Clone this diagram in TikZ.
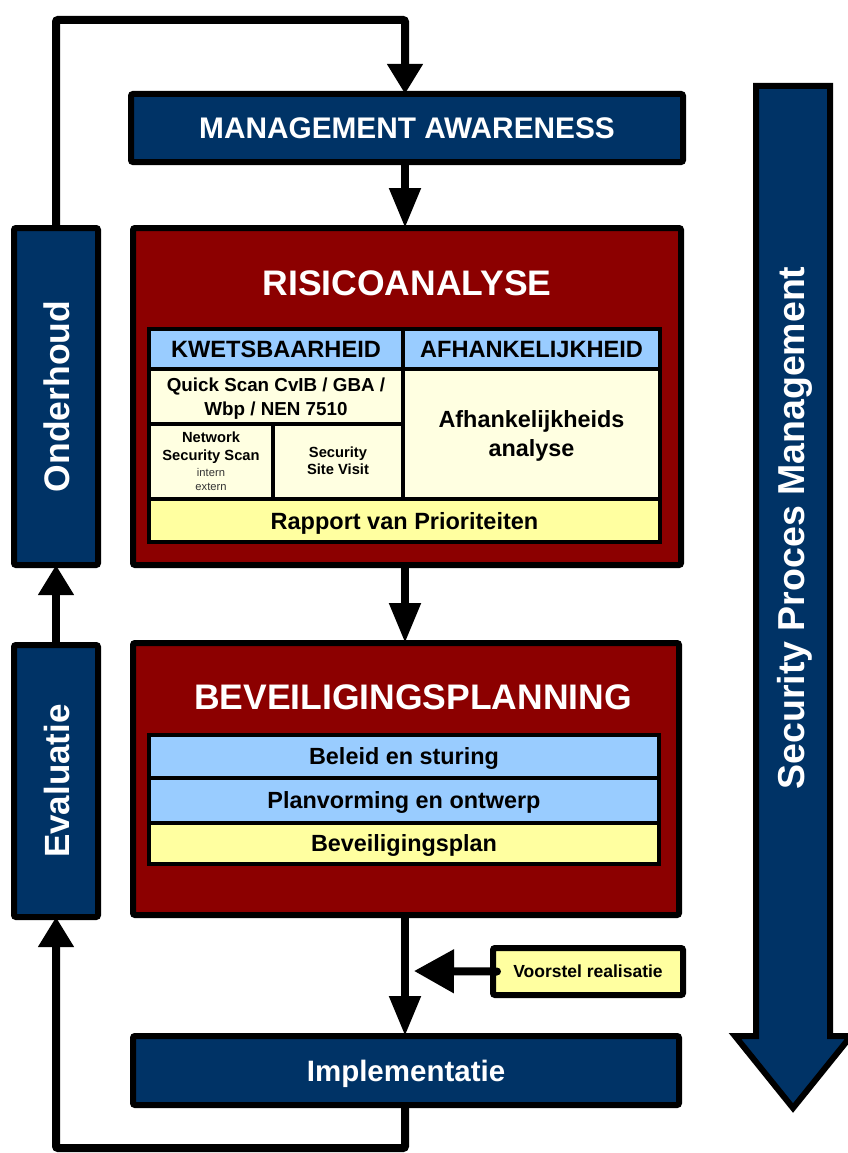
\documentclass[tikz,border=0pt]{standalone}
\usepackage{fontspec}
\setmainfont{Liberation Sans}
\usetikzlibrary{arrows.meta}
\definecolor{navy}{RGB}{0,51,102}
\definecolor{darkred}{RGB}{140,0,0}
\definecolor{lblue}{RGB}{153,204,255}
\definecolor{lyel}{RGB}{255,255,160}
\definecolor{cream}{RGB}{255,255,225}
\begin{document}
\begin{tikzpicture}[x=1pt,y=-1pt,
  box/.style={draw=black, line width=6pt, rounded corners=2pt, rectangle, inner sep=0pt, outer sep=0pt, font=\bfseries, text=white, align=center},
  navybox/.style={box, fill=navy},
  redbox/.style={box, fill=darkred},
  cell/.style={draw=black, line width=3.5pt, rectangle, inner sep=0pt, outer sep=0pt, font=\bfseries, align=center, text=black, text depth=0pt},
  lbl/.style={font=\bfseries, text=white, inner sep=0pt},
  small/.style={inner sep=0pt, anchor=base},
  conn/.style={line width=8pt, rounded corners=2pt},
]
\useasboundingbox (0,0) rectangle (847,1153);

% Big side arrow
\draw[line width=6pt, fill=navy, line join=miter]
  (756,86) -- (830,86) -- (830,1036) -- (851,1036) -- (793,1108) -- (735,1036) -- (756,1036) -- cycle;
\node[lbl, rotate=90, font=\bfseries\fontsize{37.5}{42}\selectfont] (spm) at (795,528) {Security Proces Management};

% Main boxes
\node[navybox, minimum width=552, minimum height=68, font=\bfseries\fontsize{29.8}{34}\selectfont] (ma) at (407,128) {MANAGEMENT AWARENESS};
\node[redbox, minimum width=548, minimum height=337] (ra) at (407,396.5) {};
\node[lbl, font=\bfseries\fontsize{35.5}{40}\selectfont] (ratitle) at (407,283.5) {RISICOANALYSE};
\node[redbox, minimum width=546, minimum height=272] (bp) at (406,779) {};
\node[lbl, font=\bfseries\fontsize{35.5}{40}\selectfont] (bptitle) at (413,697.5) {BEVEILIGINGSPLANNING};
\node[navybox, minimum width=546, minimum height=69, text depth=0pt, font=\bfseries\fontsize{29.5}{34}\selectfont] (impl) at (406,1070.5) {Implementatie};
\node[box, fill=lyel, text=black, minimum width=190, minimum height=47, font=\bfseries\fontsize{17.5}{20}\selectfont] (vr) at (588,971.5) {Voorstel realisatie};

\node[navybox, minimum width=84, minimum height=337] (ond) at (56,396.5) {};
\node[lbl, rotate=90, font=\bfseries\fontsize{35.5}{40}\selectfont] (ondt) at (57,396.5) {Onderhoud};
\node[navybox, minimum width=84, minimum height=272] (eval) at (56,781) {};
\node[lbl, rotate=90, font=\bfseries\fontsize{35}{40}\selectfont] (evalt) at (57,781) {Evaluatie};

% Risicoanalyse table
\node[cell, fill=lblue, minimum width=254, minimum height=40, font=\bfseries\fontsize{23.6}{27}\selectfont] (kw) at (276,349) {KWETSBAARHEID};
\node[cell, fill=lblue, minimum width=257, minimum height=40, font=\bfseries\fontsize{23.6}{27}\selectfont] (af) at (531.5,349) {AFHANKELIJKHEID};
\node[cell, fill=cream, minimum width=254, minimum height=55, font=\bfseries\fontsize{18.8}{24.5}\selectfont] (qs) at (276,396.5) {Quick Scan CvIB / GBA /\\Wbp / NEN 7510};
\node[cell, fill=cream, minimum width=124, minimum height=75] (ns) at (211,461.5) {};
\node[small, font=\bfseries\fontsize{14.7}{17}\selectfont] (nst1) at (211,442.7) {Network};
\node[small, font=\bfseries\fontsize{14.7}{17}\selectfont] (nst2) at (211,460.7) {Security Scan};
\node[small, text=black!80, font=\fontsize{11.2}{13}\selectfont] (nsx1) at (211,476) {intern};
\node[small, text=black!80, font=\fontsize{11.2}{13}\selectfont] (nsx2) at (211,490) {extern};
\node[cell, fill=cream, minimum width=130, minimum height=75] (sv) at (338,461.5) {};
\node[small, font=\bfseries\fontsize{14.7}{17}\selectfont] (sv1) at (338,457.7) {Security};
\node[small, font=\bfseries\fontsize{14.7}{17}\selectfont] (sv2) at (338,474.3) {Site Visit};
\node[cell, fill=cream, minimum width=257, minimum height=130, font=\bfseries\fontsize{23.4}{29}\selectfont] (aa) at (531.5,434) {Afhankelijkheids\\analyse};
\node[cell, fill=lyel, minimum width=511, minimum height=43, font=\bfseries\fontsize{23.5}{27}\selectfont] (rp) at (404.5,520.5) {Rapport van Prioriteiten};

% Beveiligingsplanning table
\node[cell, fill=lblue, minimum width=510, minimum height=43, font=\bfseries\fontsize{23.4}{27}\selectfont] (bs) at (404,756.5) {Beleid en sturing};
\node[cell, fill=lblue, minimum width=510, minimum height=45, font=\bfseries\fontsize{23.4}{27}\selectfont] (po) at (404,800.5) {Planvorming en ontwerp};
\node[cell, fill=lyel, minimum width=510, minimum height=41, font=\bfseries\fontsize{23.4}{27}\selectfont] (bsp) at (404,843.5) {Beveiligingsplan};

% Connectors
\coordinate (tl) at (56,20);
\coordinate (bl) at (56,1148);
\draw[conn, -{Triangle[length=30pt,width=34pt]}] (ond.north) -- (tl) -| ([xshift=-2pt]ma.north);
\draw[conn, -{Triangle[length=40pt,width=30pt]}] ([xshift=-2pt]ma.south) -- ([xshift=-2pt]ra.north);
\draw[conn, -{Triangle[length=40pt,width=30pt]}] ([xshift=-2pt]ra.south) -- ([xshift=-1pt]bp.north);
\draw[conn, -{Triangle[length=40pt,width=30pt]}] ([xshift=-1pt]bp.south) -- ([xshift=-1pt]impl.north);
\draw[conn, -{Triangle[length=30pt,width=34pt]}] (eval.north) -- (ond.south);
\draw[conn, -{Triangle[length=30pt,width=34pt]}] ([xshift=-1pt]impl.south) |- (bl) -- (eval.south);
\coordinate (vrtip) at (414,971);
\draw[line width=8pt, line cap=round, -{Triangle[length=40pt,width=42pt]}] ([xshift=4pt]vr.west) -- (vrtip);
\end{tikzpicture}
\end{document}
